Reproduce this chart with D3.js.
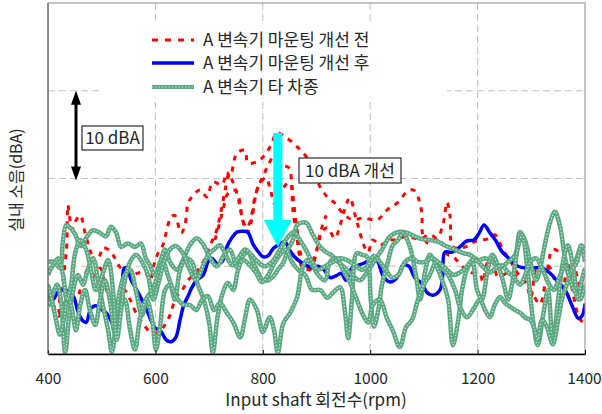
<!DOCTYPE html>
<html>
<head>
<meta charset="utf-8">
<script src="https://cdn.jsdelivr.net/npm/d3@7"></script>
<style>
  html, body { margin: 0; padding: 0; background: #fff; }
  svg { display: block; }
  text { font-family: "Noto Sans CJK KR", "Noto Sans", sans-serif; fill: #262626; }
</style>
</head>
<body>
<svg id="chart" width="602" height="414"></svg>
<script>
// ---------------- DATA ----------------
const xTicks = [400, 600, 800, 1000, 1200, 1400];
const yGrid = [50, 60, 70];
const legendLabels = ["A 변속기 마운팅 개선 전", "A 변속기 마운팅 개선 후", "A 변속기 타 차종"];
const xTitle = "Input shaft 회전수(rpm)";
const yTitle = "실내 소음(dBA)";

// before improvement (red dashed) — [rpm, dBA]
const beforeRun1 = [[400,46.8],[409,45.7],[419,44.6],[422,46.5],[428,48.5],[432,50.5],[435,52.4],[437,57.0],[441,55.3],[445,54.2],[450,55.0],[460,55.8],[469,53.8],[478,51.9],[488,50.4],[497,51.3],[502,52.1],[512,51.9],[521,51.3],[534,49.9],[553,49.0],[571,49.3],[581,49.3],[590,48.4],[597,50.1],[605,51.5],[614,52.4],[620,53.8],[629,55.6],[636,55.8],[648,53.8],[655,54.7],[661,57.2],[668,57.9],[683,58.7],[696,57.9],[707,59.6],[724,59.3],[733,60.7],[739,60.2],[752,62.9],[767,63.2],[772,61.8],[789,61.9],[804,62.7],[817,64.0],[826,65.2],[845,64.6],[864,63.6],[882,62.4],[897,60.4],[907,59.0],[920,57.9],[934,57.2],[944,56.4],[957,55.6],[968,55.3],[987,55.5],[1013,55.3],[1031,56.4],[1050,57.2],[1069,58.5],[1080,58.7],[1089,57.9],[1096,56.1],[1098,53.6],[1108,52.6],[1124,53.0],[1136,54.9],[1143,57.3],[1149,55.6],[1154,52.2],[1177,52.2],[1195,52.8],[1223,53.2],[1232,53.6],[1247,51.9],[1260,50.7],[1279,48.8],[1292,48.0],[1303,46.8],[1316,45.7],[1327,48.4],[1340,51.9],[1353,51.6],[1366,50.7],[1378,46.8],[1391,43.9],[1400,43.6]];
const beforeRun2 = [[400,47.9],[409,45.7],[420,44.3],[430,46.4],[441,47.0],[452,46.2],[463,47.9],[474,49.6],[488,48.9],[497,49.8],[508,47.5],[519,45.9],[530,46.2],[542,47.3],[553,46.2],[566,44.4],[579,43.3],[590,42.5],[603,42.4],[614,43.0],[627,44.4],[638,46.4],[650,47.3],[661,48.4],[676,49.3],[689,50.5],[702,52.4],[713,53.9],[722,56.2],[730,58.7],[737,60.5],[746,59.3],[754,57.8],[761,55.8],[769,54.4],[776,55.0],[784,57.5],[791,59.0],[800,60.2],[810,61.5],[819,62.4],[828,62.1],[838,61.5],[849,61.2],[854,59.3],[858,57.0],[864,54.1],[869,51.9],[877,49.9],[888,49.6],[899,51.3],[907,53.6],[920,54.4],[934,53.2],[944,54.7],[953,56.6],[962,57.8],[972,55.8],[981,53.8],[988,52.4],[996,51.6],[1005,53.0],[1018,52.4],[1037,53.0],[1050,53.0],[1059,53.3],[1074,53.3],[1093,53.1],[1111,53.6],[1124,53.1],[1136,52.5],[1143,51.4],[1154,51.1],[1173,49.9],[1186,49.3],[1204,49.1],[1210,48.2],[1219,50.5],[1227,50.7],[1238,48.8],[1255,49.2],[1266,49.0],[1285,48.4],[1294,47.3],[1299,46.4],[1311,50.1],[1322,50.4],[1335,49.8],[1346,47.9],[1357,46.2],[1366,49.6],[1376,50.5],[1387,48.4],[1396,46.2],[1400,45.6]];
const beforeRun3 = [[711,53.0],[720,55.0],[728,57.0],[735,58.3],[745,58.7],[752,58.5],[758,57.0],[761,55.6],[771,53.9],[778,55.0],[784,57.0],[789,58.7],[799,59.8],[806,60.1],[813,59.0],[823,57.0],[832,58.1],[843,59.3],[851,59.5],[856,56.4],[862,53.9],[866,52.2],[873,49.9],[882,49.6],[892,50.5],[903,52.4],[910,54.4],[918,55.8]];

// after improvement (blue solid)
const afterRun = [[400,46.6],[409,46.2],[419,47.1],[428,47.3],[437,47.2],[447,46.6],[456,44.8],[463,43.9],[471,43.6],[480,45.2],[489,45.5],[499,45.1],[508,44.7],[515,44.1],[523,43.2],[530,44.1],[538,47.9],[542,49.8],[547,49.8],[555,48.4],[564,47.4],[573,46.4],[586,44.7],[599,43.0],[610,42.6],[620,41.6],[629,41.4],[638,41.9],[646,43.9],[653,45.6],[661,46.6],[668,47.6],[677,48.4],[689,49.0],[698,50.5],[705,50.9],[715,50.3],[724,50.5],[733,52.2],[743,53.3],[752,53.9],[763,54.0],[772,53.9],[782,52.5],[791,51.7],[800,51.1],[810,51.2],[819,52.0],[828,52.4],[841,52.8],[851,51.7],[862,50.9],[873,50.4],[888,49.9],[903,50.0],[914,49.6],[925,48.7],[936,48.9],[946,49.2],[955,48.4],[966,49.8],[977,50.1],[990,50.4],[1001,50.8],[1013,50.6],[1024,48.9],[1037,48.2],[1050,48.7],[1061,50.1],[1072,50.0],[1083,48.7],[1095,48.1],[1106,47.0],[1117,46.7],[1130,47.3],[1135,48.9],[1139,51.6],[1152,51.6],[1167,52.2],[1180,52.9],[1193,53.0],[1203,53.8],[1212,54.7],[1223,53.8],[1234,52.9],[1245,51.7],[1260,50.8],[1275,50.0],[1290,49.8],[1305,49.8],[1320,49.8],[1335,49.2],[1350,48.2],[1363,47.3],[1376,45.5],[1387,44.1],[1394,44.3],[1400,45.6]];

// other vehicles (green)
const otherCar1 = [[400,50.5],[411,50.5],[422,49.8],[428,53.0],[434,54.7],[441,54.4],[450,53.7],[461,52.3],[473,53.4],[484,54.1],[497,53.8],[508,53.4],[517,54.5],[527,53.8],[536,52.2],[549,52.6],[562,52.2],[573,52.6],[582,50.9],[590,50.1],[599,49.0],[609,50.5],[618,51.9],[627,50.5],[640,49.6],[653,50.9],[664,52.4],[677,53.2],[689,52.5],[702,50.9],[715,50.0],[728,51.3],[739,51.9],[752,49.9],[763,51.2],[772,51.6],[782,50.4],[791,49.3],[800,48.4],[810,48.4],[819,48.8],[828,49.6],[838,50.4],[847,51.9],[856,53.0],[864,54.7],[873,55.0],[882,54.9],[893,53.6],[907,52.2],[918,51.6],[929,51.2],[940,50.5],[953,49.8],[966,49.0],[981,48.4],[994,49.3],[1009,50.7],[1022,51.9],[1037,53.4],[1052,53.9],[1069,53.8],[1083,53.4],[1096,53.1],[1111,53.0],[1126,52.8],[1141,52.3],[1158,51.9],[1173,51.5],[1186,51.3],[1201,50.7],[1214,50.9],[1227,50.5],[1242,49.9],[1257,50.5],[1270,51.3],[1279,53.9],[1288,53.0],[1298,50.5],[1309,48.4],[1316,49.6],[1325,52.4],[1335,55.0],[1344,56.2],[1353,54.7],[1363,50.9],[1372,49.0],[1383,50.7],[1393,52.2],[1400,50.5]];
const otherCar2 = [[400,45.4],[407,46.5],[417,47.9],[424,46.2],[432,40.2],[439,44.1],[447,47.3],[456,49.0],[465,47.9],[474,49.6],[484,50.9],[493,48.4],[502,45.6],[512,42.7],[519,40.2],[527,43.9],[534,47.3],[543,49.0],[553,49.6],[564,47.1],[575,44.4],[584,46.2],[594,43.9],[601,40.5],[609,43.3],[618,47.3],[627,47.9],[636,46.2],[646,49.6],[657,50.9],[668,50.5],[679,47.9],[690,46.2],[700,43.6],[707,40.1],[715,43.9],[724,46.7],[735,48.1],[745,47.3],[754,49.6],[763,50.7],[776,50.1],[787,49.3],[798,48.2],[810,49.0],[823,50.5],[832,51.3],[843,51.9],[854,50.5],[866,49.6],[879,49.0],[892,47.3],[907,47.3],[920,46.4],[931,47.0],[944,47.6],[953,44.8],[959,41.8],[966,46.2],[975,51.5],[985,51.3],[994,51.1],[1001,46.2],[1007,43.1],[1015,45.0],[1022,47.9],[1033,50.5],[1042,52.4],[1052,53.0],[1061,53.8],[1074,52.2],[1085,49.0],[1093,46.2],[1102,49.3],[1111,51.3],[1123,50.1],[1134,48.4],[1145,46.2],[1154,41.0],[1164,43.9],[1171,47.3],[1180,49.6],[1190,50.5],[1199,47.3],[1208,46.2],[1218,49.3],[1227,51.3],[1238,50.1],[1247,48.4],[1257,46.2],[1264,47.9],[1275,52.1],[1283,53.6],[1292,50.1],[1303,43.9],[1312,41.0],[1322,44.4],[1331,47.3],[1340,41.6],[1350,46.2],[1359,50.5],[1368,52.4],[1378,49.8],[1387,46.2],[1394,48.4],[1400,49.8]];
const otherCar3 = [[400,47.9],[407,46.2],[415,43.9],[422,42.2],[430,44.1],[437,46.7],[445,45.0],[452,42.7],[460,45.6],[469,47.3],[478,45.0],[488,43.3],[497,46.2],[506,48.4],[515,46.2],[525,42.2],[534,45.0],[543,46.2],[553,42.7],[562,40.5],[571,43.9],[582,46.2],[594,47.3],[605,49.0],[614,50.5],[623,49.0],[633,47.3],[642,46.2],[653,45.6],[664,45.6],[676,45.0],[687,46.2],[698,46.6],[709,45.0],[720,45.8],[733,44.7],[745,43.6],[758,41.9],[767,44.1],[776,46.2],[789,45.0],[800,42.5],[813,44.2],[821,42.7],[828,40.1],[838,43.5],[851,44.7],[864,46.5],[873,49.6],[882,50.7],[892,50.1],[903,49.0],[916,48.4],[925,50.5],[938,50.9],[949,49.6],[962,48.2],[975,46.2],[987,44.4],[996,43.6],[1005,45.6],[1018,46.2],[1031,44.1],[1042,42.7],[1055,40.8],[1067,43.1],[1078,43.9],[1089,46.2],[1100,47.9],[1111,49.0],[1123,50.5],[1134,49.8],[1145,49.0],[1158,47.3],[1167,45.4],[1180,44.2],[1193,45.2],[1204,46.2],[1214,45.0],[1223,44.2],[1232,45.6],[1242,46.5],[1251,45.8],[1260,45.4],[1270,45.0],[1279,44.7],[1290,44.1],[1298,43.9],[1307,42.7],[1312,41.6],[1320,43.9],[1329,43.1],[1340,41.1],[1350,43.9],[1357,46.2],[1366,47.9],[1376,49.6],[1385,50.5],[1393,52.4],[1400,51.9]];
const otherCar4 = [[400,49.0],[409,50.1],[419,50.9],[428,49.0],[435,46.2],[443,47.9],[450,51.3],[460,53.0],[471,51.9],[480,49.6],[489,47.3],[501,49.0],[512,50.7],[521,47.3],[528,41.6],[536,45.0],[543,48.4],[553,50.5],[564,51.3],[575,50.5],[586,49.0],[596,46.2],[605,47.9],[616,50.5],[627,51.9],[638,52.3],[651,51.5],[664,49.6],[676,48.4],[687,49.8],[698,51.3],[709,51.9],[720,52.4],[731,51.3],[743,50.1],[754,50.9],[767,51.9],[780,51.2],[791,50.5],[804,50.0],[817,50.5],[832,51.9],[845,53.2],[858,53.9],[869,53.0],[880,51.9],[892,50.5],[903,49.6],[916,50.0],[931,50.5],[944,50.9],[957,50.7],[972,50.1],[985,49.6],[996,50.1],[1007,51.2],[1018,50.5],[1029,49.6],[1041,48.7],[1052,49.0],[1065,50.5],[1078,50.9],[1089,50.5],[1102,50.5],[1115,50.9],[1130,50.3],[1143,49.6],[1156,49.0],[1167,49.3],[1178,49.8],[1190,50.7],[1201,50.5],[1212,49.8],[1223,49.3],[1234,49.8],[1245,50.1],[1257,49.3],[1268,48.7],[1279,47.9],[1288,48.9],[1298,50.5],[1309,50.9],[1320,49.8],[1331,48.2],[1342,47.3],[1353,48.9],[1363,50.0],[1372,48.4],[1381,47.1],[1391,46.2],[1400,47.9]];

// annotation values
const refArrowDb = [60, 70];      // black double arrow span (10 dBA)
const improveArrowRpm = 828;
const improveArrowDb = [65.2, 52.2];
const refLabel = "10 dBA";
const improveLabel = "10 dBA 개선";

// ---------------- CHART ----------------
const W = 602, H = 414;
const m = { left: 48, right: 17, top: 3, bottom: 60 };
const svg = d3.select("#chart");
const x = d3.scaleLinear().domain([400, 1400]).range([m.left, W - m.right]);
const y = d3.scaleLinear().domain([40, 80]).range([H - m.bottom, m.top]);
const x0 = x.range()[0], x1 = x.range()[1], yb = y.range()[0], yt = y.range()[1];

// grid
const grid = svg.append("g").attr("stroke", "#c4c4c4").attr("stroke-width", 1.1).attr("stroke-dasharray", "7,4");
grid.selectAll(".vg").data(xTicks.slice(1, -1)).enter().append("line")
  .attr("x1", d => x(d)).attr("x2", d => x(d)).attr("y1", yt).attr("y2", yb);
grid.selectAll(".hg").data(yGrid).enter().append("line")
  .attr("x1", x0).attr("x2", x1).attr("y1", d => y(d)).attr("y2", d => y(d));

// clip
svg.append("clipPath").attr("id", "clip").append("rect")
  .attr("x", x0).attr("y", yt).attr("width", x1 - x0).attr("height", yb - yt);
const plot = svg.append("g").attr("clip-path", "url(#clip)");

const line = d3.line().x(d => x(d[0])).y(d => y(d[1])).curve(d3.curveCatmullRom.alpha(0.5));

// red dashed
[beforeRun1, beforeRun2, beforeRun3].forEach(s => {
  plot.append("path").datum(s).attr("d", line).attr("fill", "none")
    .attr("stroke", "#ff0000").attr("stroke-width", 3).attr("stroke-dasharray", "5,6");
});
// blue
plot.append("path").datum(afterRun).attr("d", line).attr("fill", "none")
  .attr("stroke", "#0000ff").attr("stroke-width", 3.5).attr("stroke-linejoin", "round");
// green
const gOuter = "#5aa881", gInner = "#c6e6d3";
[otherCar1, otherCar2, otherCar3, otherCar4].forEach(s => {
  plot.append("path").datum(s).attr("d", line).attr("fill", "none")
    .attr("stroke", gOuter).attr("stroke-width", 4.5).attr("stroke-linejoin", "round");
  plot.append("path").datum(s).attr("d", line).attr("fill", "none")
    .attr("stroke", gInner).attr("stroke-width", 1.2).attr("stroke-dasharray", "1.5,1.8");
});

// frame
svg.append("rect").attr("x", x0).attr("y", yt).attr("width", x1 - x0).attr("height", yb - yt)
  .attr("fill", "none").attr("stroke", "#8c8c8c").attr("stroke-width", 1);

// x axis
const xAxis = d3.axisBottom(x).tickValues(xTicks).tickFormat(d3.format("d"))
  .tickSizeInner(-4).tickSizeOuter(0).tickPadding(19);
const ax = svg.append("g").attr("transform", `translate(0,${yb})`).call(xAxis);
ax.select(".domain").attr("stroke", "#000").attr("stroke-width", 1.6);
ax.selectAll(".tick line").attr("stroke", "#000");
ax.selectAll(".tick text").attr("font-size", 15.5).attr("fill", "#262626")
  .style("font-family", '"Noto Sans CJK KR", sans-serif')
  .attr("dx", (d, i) => i === xTicks.length - 1 ? -1 : 0);
// left axis line
svg.append("line").attr("x1", x0).attr("x2", x0).attr("y1", yt).attr("y2", yb).attr("stroke", "#555").attr("stroke-width", 1);

// titles
svg.append("text").attr("x", 316).attr("y", 406).attr("text-anchor", "middle").attr("font-size", 17).text(xTitle);
svg.append("text").attr("transform", "translate(22,180) rotate(-90)").attr("text-anchor", "middle").attr("font-size", 16).text(yTitle);

// legend
const lg = svg.append("g");
lg.append("rect").attr("x", 100).attr("y", 22).attr("width", 347).attr("height", 75).attr("fill", "#fff");
const rowsY = [40, 63, 87];
const styles = [
  { stroke: "#ff0000", w: 3, dash: "6,7" },
  { stroke: "#0000ff", w: 3.5, dash: null },
  { stroke: gOuter, w: 4, dash: null, inner: true }
];
legendLabels.forEach((lab, i) => {
  const s = styles[i];
  const l = lg.append("line").attr("x1", 152).attr("x2", 194).attr("y1", rowsY[i]).attr("y2", rowsY[i])
    .attr("stroke", s.stroke).attr("stroke-width", s.w);
  if (s.dash) l.attr("stroke-dasharray", s.dash);
  if (s.inner) lg.append("line").attr("x1", 152).attr("x2", 194).attr("y1", rowsY[i]).attr("y2", rowsY[i])
    .attr("stroke", gInner).attr("stroke-width", 1.2).attr("stroke-dasharray", "1.5,1.8");
  lg.append("text").attr("x", 203).attr("y", rowsY[i]).attr("dy", "0.36em").attr("font-size", 17).text(lab);
});

// black double arrow
const ax1 = 76, ya = y(refArrowDb[1]), yb2 = y(refArrowDb[0]);
const ann = svg.append("g");
ann.append("line").attr("x1", ax1).attr("x2", ax1).attr("y1", ya + 10).attr("y2", yb2 - 10)
  .attr("stroke", "#000").attr("stroke-width", 3);
ann.append("path").attr("d", `M${ax1},${ya} L${ax1 - 5},${ya + 14} L${ax1 + 5},${ya + 14} Z`).attr("fill", "#000");
ann.append("path").attr("d", `M${ax1},${yb2 + 2} L${ax1 - 5},${yb2 - 12} L${ax1 + 5},${yb2 - 12} Z`).attr("fill", "#000");
ann.append("rect").attr("x", 82).attr("y", 126).attr("width", 61).attr("height", 24)
  .attr("fill", "#fff").attr("stroke", "#000").attr("stroke-width", 1);
ann.append("text").attr("x", 112.5).attr("y", 138).attr("dy", "0.36em").attr("text-anchor", "middle").attr("font-size", 17).text(refLabel);

// cyan arrow
const cx = x(improveArrowRpm), cyTop = y(improveArrowDb[0]), cyBot = y(improveArrowDb[1]);
ann.append("rect").attr("x", cx - 4.5).attr("y", cyTop).attr("width", 9).attr("height", cyBot - 27 - cyTop + 1).attr("fill", "#00ffff");
ann.append("path").attr("d", `M${cx - 14},${cyBot - 27} L${cx + 14},${cyBot - 27} L${cx},${cyBot} Z`).attr("fill", "#00ffff");
ann.append("rect").attr("x", 299).attr("y", 158).attr("width", 102).attr("height", 25)
  .attr("fill", "#fff").attr("stroke", "#000").attr("stroke-width", 1);
ann.append("text").attr("x", 350).attr("y", 170.5).attr("dy", "0.36em").attr("text-anchor", "middle").attr("font-size", 17).text(improveLabel);
</script>
</body>
</html>
